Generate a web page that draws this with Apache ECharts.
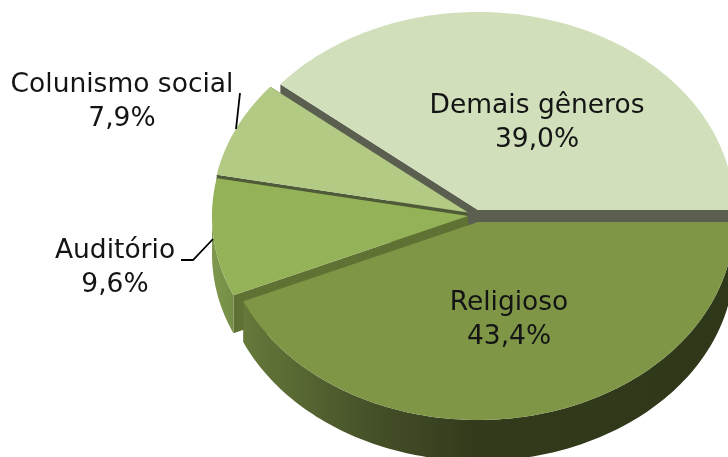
<!DOCTYPE html>
<html>
<head>
<meta charset="utf-8">
<style>html,body{margin:0;padding:0;background:#fff}#c{width:728px;height:457px}</style>
<script src="https://cdn.jsdelivr.net/npm/echarts@6/dist/echarts.min.js"></script>
</head>
<body>
<div id="c"></div>
<script>
const categories = ['Religioso', 'Auditório', 'Colunismo social', 'Demais gêneros'];
const shares = [43.4, 9.6, 7.9, 39.0];

// styling and layout of the drawing (not data)
const topColors = ['#7e9646', '#94b358', '#b2ca84', '#d1dfbb'];
const cutColors = ['#5f7234', '#5f7234', '#4f5a38', '#5a5f50'];
const centers = [[478, 222], [468, 216], [468, 212.5], [478, 210]];
const depths = [41, 38, 38, 38];
const RX = 256, RY = 198;
const labelAt = [[509, 320], [115, 268], [122, 102], [537, 123]];
const leaders = [null, [[181, 260], [193, 260], [213, 239]], [[240, 93], [236, 129]], null];
const FONT = 'DejaVu Sans';
const FONT_SIZE = 26.5;

const total = shares.reduce((a, b) => a + b, 0);
function arcPoints(c, a0, a1) {
  const n = Math.max(2, Math.ceil((a1 - a0) / 0.02));
  const pts = [];
  for (let i = 0; i <= n; i++) {
    const t = a0 + (a1 - a0) * i / n;
    pts.push([c[0] + RX * Math.cos(t), c[1] + RY * Math.sin(t)]);
  }
  return pts;
}
const wallFill = i => i === 0
  ? { type: 'linear', global: true, x: 242, y: 0, x2: 728, y2: 0, colorStops: [
      { offset: 0, color: '#66793a' }, { offset: 0.25, color: '#47532a' },
      { offset: 0.47, color: '#333b1c' }, { offset: 1, color: '#2e3719' }] }
  : { type: 'linear', global: true, x: 212, y: 0, x2: 236, y2: 0, colorStops: [
      { offset: 0, color: '#7f994e' }, { offset: 1, color: '#748c45' }] };

function renderItem(params, api) {
  const i = params.dataIndex;
  let before = 0;
  for (let k = 0; k < i; k++) before += shares[k];
  const a0 = before / total * 2 * Math.PI;
  const a1 = a0 + api.value(0) / total * 2 * Math.PI;
  const c = centers[i];
  const down = p => [p[0], p[1] + depths[i]];
  const base = (shares.length - i) * 10;
  const children = [];
  const poly = (points, fill, z) => children.push({
    type: 'polygon', z2: base + z, silent: true,
    shape: { points }, style: { fill, stroke: null }
  });
  [a0, a1].forEach(a => {
    const e = [c[0] + RX * Math.cos(a), c[1] + RY * Math.sin(a)];
    poly([c, e, down(e), down(c)], cutColors[i], 0);
  });
  const frontEnd = Math.min(a1, Math.PI);
  if (a0 < Math.PI) {
    const arc = arcPoints(c, a0, frontEnd);
    poly(arc.concat(arc.map(down).reverse()), wallFill(i), 1);
  }
  poly([c].concat(arcPoints(c, a0, a1)), topColors[i], 2);
  if (leaders[i]) {
    children.push({
      type: 'polyline', z2: 100, silent: true,
      shape: { points: leaders[i] },
      style: { stroke: '#000', lineWidth: 1.8, fill: null }
    });
  }
  children.push({
    type: 'text', z2: 110, silent: true,
    style: {
      text: categories[i] + '\n' + api.value(0).toFixed(1).replace('.', ',') + '%',
      x: labelAt[i][0], y: labelAt[i][1],
      align: 'center', verticalAlign: 'middle',
      fontFamily: FONT, fontSize: FONT_SIZE, lineHeight: 33.5, fill: '#141414'
    }
  });
  return { type: 'group', children };
}

const chart = echarts.init(document.getElementById('c'), null, { renderer: 'canvas' });
chart.setOption({
  backgroundColor: '#ffffff',
  animation: false,
  series: [{
    type: 'custom',
    coordinateSystem: 'none',
    renderItem,
    clip: false,
    data: shares.map(v => [v])
  }]
});
</script>
</body>
</html>
